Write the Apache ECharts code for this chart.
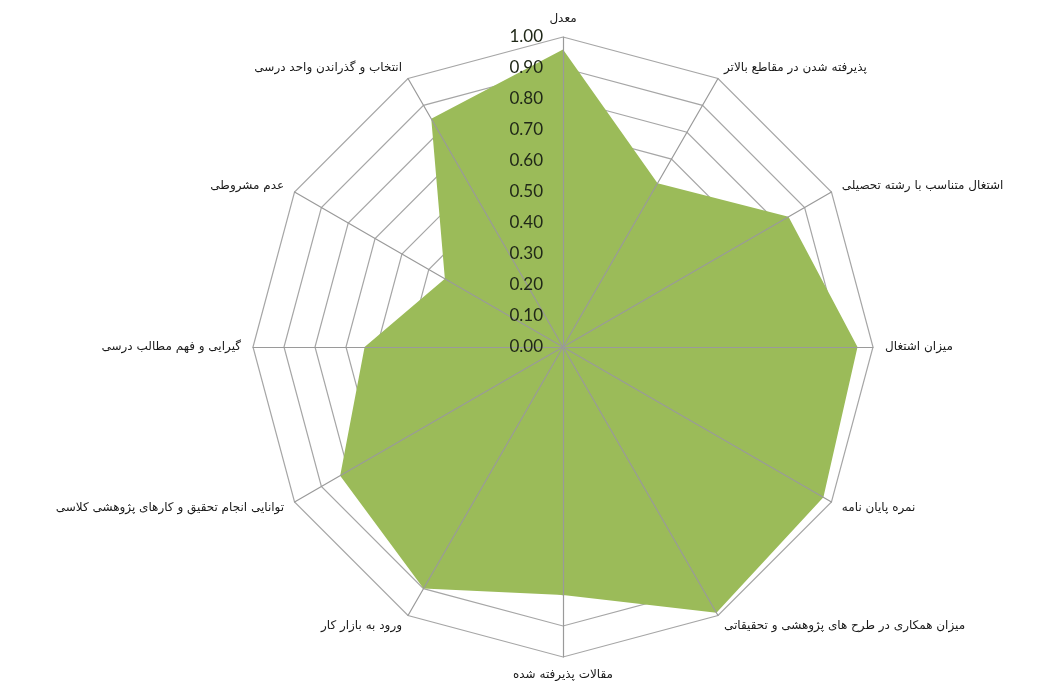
<!DOCTYPE html>
<html>
<head>
<meta charset="utf-8">
<script src="https://cdn.jsdelivr.net/npm/echarts@6/dist/echarts.min.js"></script>
<style>
html,body{margin:0;padding:0;background:#fff;}
#chart{width:1041px;height:681px;}
</style>
</head>
<body>
<div id="chart"></div>
<script>
// Categories listed clockwise starting from the top axis
var categories = [
  'معدل',
  'پذیرفته شدن در مقاطع بالاتر',
  'اشتغال متناسب با رشته تحصیلی',
  'میزان اشتغال',
  'نمره پایان نامه',
  'میزان همکاری در طرح های پژوهشی و تحقیقاتی',
  'مقالات پذیرفته شده',
  'ورود به بازار کار',
  'توانایی انجام تحقیق و کارهای پژوهشی کلاسی',
  'گیرایی و فهم مطالب درسی',
  'عدم مشروطی',
  'انتخاب و گذراندن واحد درسی'
];
var values = [0.96, 0.61, 0.84, 0.95, 0.97, 0.99, 0.80, 0.90, 0.83, 0.64, 0.44, 0.85];
var axisMin = 0;
var axisMax = 1;
var tickStep = 0.1;

// ECharts radar runs counter-clockwise: keep the first, reverse the rest
function toCCW(arr){ return [arr[0]].concat(arr.slice(1).reverse()); }

var cx = 563, cy = 347, R = 310;
var indicators = toCCW(categories).map(function(c){ return {name: c, min: axisMin, max: axisMax}; });
var chart = echarts.init(document.getElementById('chart'));
chart.setOption({
  animation: false,
  backgroundColor: '#ffffff',
  radar: [{
    // rings (under the filled area) and names
    center: [cx, cy],
    radius: R,
    startAngle: 90,
    splitNumber: 10,
    shape: 'polygon',
    nameGap: 12,
    z: 0,
    axisName: {
      color: '#1a1a1a',
      fontFamily: 'DejaVu Sans',
      fontSize: 12
    },
    indicator: indicators,
    splitLine: {lineStyle: {color: '#a6a6a6', width: 1.2}},
    splitArea: {show: false},
    axisLine: {show: false},
    axisTick: {show: false},
    axisLabel: {show: false}
  }, {
    // spokes drawn above the filled area
    center: [cx, cy],
    radius: R,
    startAngle: 90,
    splitNumber: 10,
    shape: 'polygon',
    z: 5,
    axisName: {show: false},
    indicator: indicators,
    splitLine: {show: false},
    splitArea: {show: false},
    axisLine: {lineStyle: {color: '#9a9a9a', width: 1.2}},
    axisTick: {show: false},
    axisLabel: {show: false}
  }],
  grid: {left: cx, top: cy - R, width: 1, height: R, containLabel: false},
  xAxis: {type: 'value', show: false, min: 0, max: 1},
  yAxis: {
    type: 'value', min: axisMin, max: axisMax, interval: tickStep,
    axisLine: {show: false}, axisTick: {show: false}, splitLine: {show: false},
    axisLabel: {
      margin: 20, fontSize: 17, color: '#202818', fontFamily: 'Lato',
      formatter: function(v){ return v.toFixed(2); }
    },
    z: 10
  },
  series: [{
    type: 'radar',
    radarIndex: 0,
    symbol: 'none',
    lineStyle: {width: 0},
    areaStyle: {color: '#9bbb59', opacity: 1},
    z: 1,
    data: [{value: toCCW(values)}]
  }]
});
</script>
</body>
</html>
